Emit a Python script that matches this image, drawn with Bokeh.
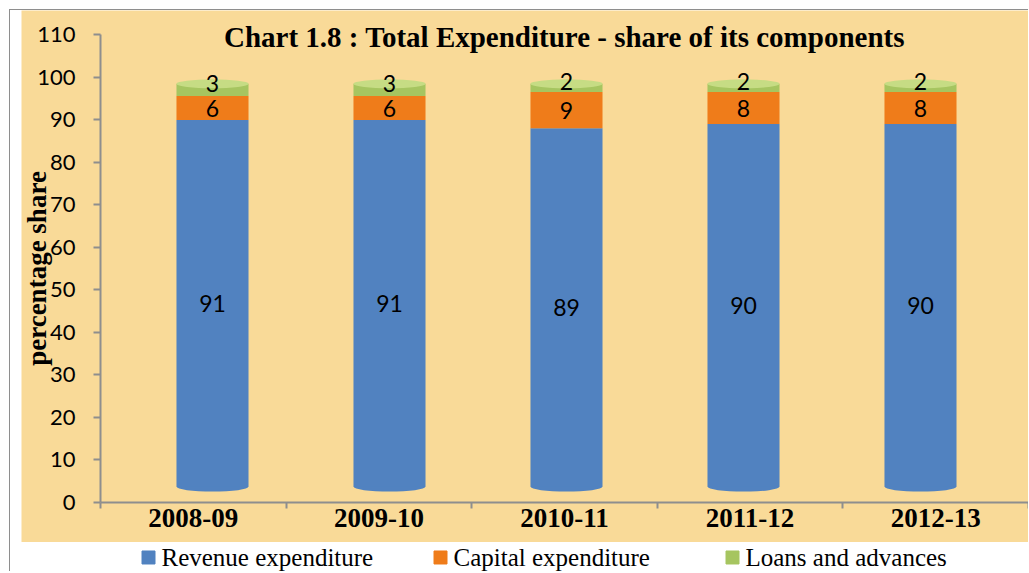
from bokeh.plotting import figure
from bokeh.models import (ColumnDataSource, Range1d, FixedTicker, Label, Spacer)
from bokeh.layouts import column, row
from bokeh.core.properties import value
from bokeh.embed import file_html
from bokeh.resources import INLINE

# ---------------- data ----------------
years = ["2008-09", "2009-10", "2010-11", "2011-12", "2012-13"]
revenue = [91, 91, 89, 90, 90]
capital = [6, 6, 9, 8, 8]
loans = [3, 3, 2, 2, 2]
series = ["Revenue expenditure", "Capital expenditure", "Loans and advances"]
y_ticks = list(range(0, 111, 10))
title_text = "Chart 1.8 : Total Expenditure - share of its components"
y_title = "percentage share"

# ---------------- style ----------------
colors = ["#5182C0", "#EF7C1A", "#A6C560"]
top_color = "#C6DC84"
TAN = "#F9DA98"
GRAY = "#8E8E8E"
SERIF = "Liberation Serif"
SANS = "Lato"

W, H = 1007, 532
keys = ["rev", "cap", "loan"]
n = len(years)
centers = [i + 0.5 for i in range(n)]          # category slot centres
totals = [a + b + c for a, b, c in zip(revenue, capital, loans)]
src = ColumnDataSource(dict(xc=centers, year=years, rev=revenue, cap=capital,
                            loan=loans, total=totals))

# the frame fills the whole tan area; axes sit at fixed locations inside it
p = figure(width=W, height=H,
           x_range=Range1d(-0.4256, n), y_range=Range1d(-9.40, 115.64),
           output_backend="svg", toolbar_location=None, min_border=0,
           background_fill_color=TAN, border_fill_color=TAN, outline_line_color=None)
p.grid.visible = False

# bars live on a "back plane" (3-D perspective of the original)
p.extra_x_ranges = {"back": Range1d(-0.5791, 5.1102)}
p.extra_y_ranges = {"bars": Range1d(-13.88, 118.21)}
BW = 0.407

p.ellipse(x="xc", y=0, width=BW, height=10, height_units="screen",
          fill_color=colors[0], line_color=None, source=src,
          x_range_name="back", y_range_name="bars")
p.vbar_stack(keys, x="xc", width=BW, color=colors, line_color=None, source=src,
             x_range_name="back", y_range_name="bars")
p.ellipse(x="xc", y="total", width=BW, height=9, height_units="screen",
          fill_color=top_color, line_color=None, source=src,
          x_range_name="back", y_range_name="bars")

# data labels
offsets = [0, 0, -6]
base = [0] * n
arrays = [revenue, capital, loans]
for arr, dy in zip(arrays, offsets):
    mids = [b + v / 2 for b, v in zip(base, arr)]
    lsrc = ColumnDataSource(dict(xc=centers, mid=mids, txt=[str(v) for v in arr]))
    p.text(x="xc", y="mid", text="txt", source=lsrc, x_range_name="back", y_range_name="bars",
           text_align="center", text_baseline="middle", y_offset=dy,
           text_font=value(SANS), text_font_size="23px", text_color="black")
    base = [b + v for b, v in zip(base, arr)]

# title
p.add_layout(Label(x=n / 2, y=109.3, text=title_text, text_align="center",
                   text_baseline="middle", text_font=SERIF, text_font_style="bold",
                   text_font_size="29px", text_color="black"))

# x axis: category labels between boundary ticks
xax = p.xaxis[0]
xax.fixed_location = 0
xax.bounds = (0, n)
xax.ticker = FixedTicker(ticks=centers, minor_ticks=list(range(n + 1)))
xax.major_label_overrides = {c: y for c, y in zip(centers, years)}
xax.major_tick_out = 6
xax.major_tick_in = 0
xax.major_tick_line_color = None
xax.minor_tick_out = 6
xax.minor_tick_in = 0
xax.minor_tick_line_color = GRAY
xax.minor_tick_line_width = 2
xax.axis_line_color = GRAY
xax.axis_line_width = 2
xax.major_label_standoff = 0
xax.major_label_text_font = SERIF
xax.major_label_text_font_style = "bold"
xax.major_label_text_font_size = "27px"
xax.major_label_text_color = "black"

yax = p.yaxis[0]
yax.fixed_location = 0
yax.bounds = (0, 110)
yax.ticker = FixedTicker(ticks=y_ticks)
yax.minor_tick_line_color = None
yax.major_tick_out = 7
yax.major_tick_in = 0
yax.major_tick_line_color = GRAY
yax.major_tick_line_width = 2
yax.axis_line_color = GRAY
yax.axis_line_width = 2
yax.major_label_standoff = 18
yax.major_label_text_font = SANS
yax.major_label_text_font_size = "22px"
yax.major_label_text_color = "black"
yax.axis_label = y_title
yax.axis_label_text_font = SERIF
yax.axis_label_text_font_style = "bold"
yax.axis_label_text_font_size = "27px"
yax.axis_label_text_color = "black"
yax.axis_label_standoff = -18

# legend strip (white, below the chart area)
LH = 29
lg = figure(width=W, height=LH, x_range=Range1d(-127 / 292, (W - 127) / 292),
            y_range=Range1d(0, 1), output_backend="svg", toolbar_location=None,
            min_border=0, outline_line_color=None, x_axis_location=None, y_axis_location=None,
            background_fill_color="white", border_fill_color="white")
lg.grid.visible = False
legsrc = ColumnDataSource(dict(i=list(range(len(series))), name=series, color=colors))
lg.scatter(x="i", y=0.483, marker="square", size=13, color="color", source=legsrc)
lg.text(x="i", y=0.483, text="name", x_offset=13, text_baseline="middle",
        text_font=value(SERIF), text_font_size="25px", text_color="black", source=legsrc)

inner = column(
    row(Spacer(width=11, height=H), p),
    row(Spacer(width=11, height=LH), lg),
    styles={"border-left": f"1px solid {GRAY}", "border-top": f"1px solid {GRAY}"},
)
layout = column(Spacer(width=10, height=9), row(Spacer(width=9, height=10), inner))

open("out.html", "w").write(file_html(layout, INLINE))
